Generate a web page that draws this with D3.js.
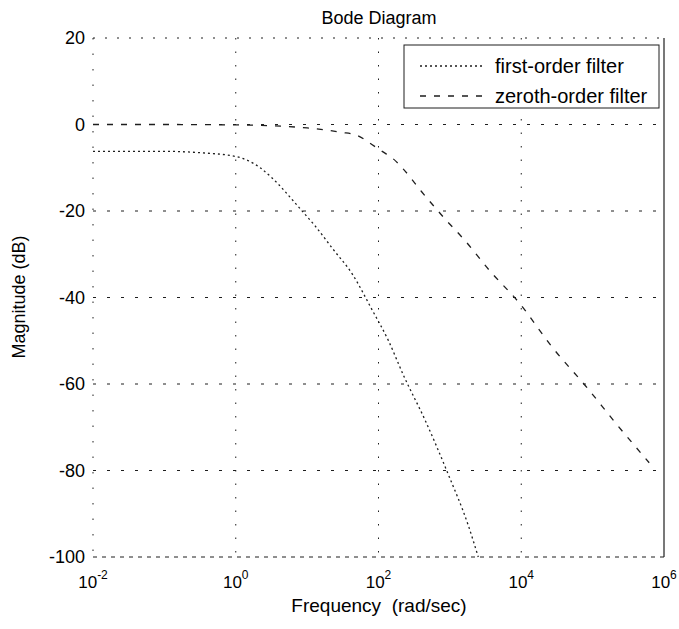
<!DOCTYPE html>
<html>
<head>
<meta charset="utf-8">
<script src="https://cdn.jsdelivr.net/npm/d3@7"></script>
<style>
  body { margin: 0; background: #fff; }
  svg { display: block; font-family: "Liberation Sans", Arial, sans-serif; }
</style>
</head>
<body>
<div id="container"></div>
<script>
// magnitude curves (rad/sec, dB)
const freqFirst = [0.01, 0.1, 0.3, 1, 2.2, 3.2, 8, 13, 23, 43, 81, 138, 224, 457, 933, 1820, 2500];
const magFirst = [-6.2, -6.2, -6.5, -7.4, -10, -12.3, -19.5, -23.5, -28.8, -34.6, -42.8, -50, -58, -68.6, -80.6, -92.8, -100];
const freqZeroth = [0.01, 0.1, 1, 3.2, 10, 30, 50, 74, 107, 160, 220, 400, 810, 1660, 3700, 9100, 27500, 85000, 200000, 620000];
const magZeroth = [0, 0, -0.1, -0.3, -0.8, -1.8, -2.5, -4.2, -6, -7.9, -10.2, -15.5, -21.4, -27, -34, -41, -51.6, -61, -68.6, -78.2];
const xTicks = [1e-2, 1e0, 1e2, 1e4, 1e6];
const xTickExp = ['-2', '0', '2', '4', '6'];
const yTicks = [20, 0, -20, -40, -60, -80, -100];
const seriesNames = ['first-order filter', 'zeroth-order filter'];

const w = 679, h = 629;
const pLeft = 93, pRight = 664, pTop = 38, pBottom = 557;
const ink = '#1e1e1e';

const xScale = d3.scaleLog().domain([1e-2, 1e6]).range([pLeft, pRight]);
const yScale = d3.scaleLinear().domain([-100, 20]).range([pBottom, pTop]);

const svg = d3.select('#container').append('svg')
    .attr('width', w).attr('height', h);

// grid (only at labelled ticks, looks broken in the scan)
svg.append('g').selectAll('line')
    .data(yTicks.slice(1, -1))
    .enter().append('line')
    .attr('x1', pLeft).attr('x2', pRight)
    .attr('y1', d => yScale(d)).attr('y2', d => yScale(d))
    .attr('stroke', ink).attr('stroke-width', 1)
    .attr('stroke-dasharray', '3,11');
svg.append('g').selectAll('line')
    .data(xTicks.slice(1, -1))
    .enter().append('line')
    .attr('x1', d => xScale(d)).attr('x2', d => xScale(d))
    .attr('y1', pTop).attr('y2', pBottom)
    .attr('stroke', ink).attr('stroke-width', 1)
    .attr('stroke-dasharray', '1.5,12');

// frame
svg.append('line').attr('x1', pLeft).attr('x2', pRight).attr('y1', pTop).attr('y2', pTop)
    .attr('stroke', ink).attr('stroke-dasharray', '2,10');
svg.append('line').attr('x1', pLeft).attr('x2', pRight).attr('y1', pBottom).attr('y2', pBottom)
    .attr('stroke', ink).attr('stroke-dasharray', '4,5');
svg.append('line').attr('x1', pLeft).attr('x2', pLeft).attr('y1', pTop).attr('y2', pBottom)
    .attr('stroke', ink).attr('stroke-dasharray', '1.5,14');
svg.append('line').attr('x1', pRight).attr('x2', pRight).attr('y1', pTop).attr('y2', pBottom)
    .attr('stroke', ink).attr('stroke-width', 1.2);

// y axis labels
const yAxis = d3.axisLeft(yScale).tickValues(yTicks).tickSize(0).tickPadding(8).tickFormat(d3.format('d'));
const gy = svg.append('g').attr('transform', 'translate(' + pLeft + ',0)').call(yAxis);
gy.select('.domain').remove();
gy.selectAll('text').attr('font-size', 18).attr('fill', '#000')
    .attr('font-family', '"Liberation Sans", Arial, sans-serif')
    .text(d => d < 0 ? '-' + Math.abs(d) : d);

// x axis labels as 10^n
const gx = svg.append('g');
xTicks.forEach((t, i) => {
    const txt = gx.append('text')
        .attr('x', xScale(t)).attr('y', 588)
        .attr('text-anchor', 'middle')
        .attr('font-size', 17).attr('fill', '#000');
    txt.append('tspan').text('10');
    txt.append('tspan').attr('dy', -9).attr('font-size', 12).text(xTickExp[i]);
});

// curves
const line = d3.line()
    .x(d => xScale(d[0]))
    .y(d => yScale(d[1]))
    .curve(d3.curveMonotoneX);

const firstPts = freqFirst.map((f, i) => [f, magFirst[i]]);
const zerothPts = freqZeroth.map((f, i) => [f, magZeroth[i]]);

svg.append('path').datum(firstPts)
    .attr('d', line)
    .attr('fill', 'none').attr('stroke', ink).attr('stroke-width', 1.3)
    .attr('stroke-dasharray', '2,3');
svg.append('path').datum(zerothPts)
    .attr('d', line)
    .attr('fill', 'none').attr('stroke', ink).attr('stroke-width', 1.3)
    .attr('stroke-dasharray', '6,8');

// legend
const legend = svg.append('g');
legend.append('rect').attr('x', 404).attr('y', 45).attr('width', 255).attr('height', 63)
    .attr('fill', '#fff').attr('stroke', ink).attr('stroke-width', 1);
const dashes = ['2,3', '6,8'];
seriesNames.forEach((name, i) => {
    const yy = 66 + i * 30;
    legend.append('line').attr('x1', 420).attr('x2', 484).attr('y1', yy).attr('y2', yy)
        .attr('stroke', ink).attr('stroke-width', 1.3).attr('stroke-dasharray', dashes[i]);
    legend.append('text').attr('x', 495).attr('y', yy + 7)
        .attr('font-size', 20).attr('fill', '#000').text(name);
});

// titles
svg.append('text').attr('x', 379).attr('y', 24).attr('text-anchor', 'middle')
    .attr('font-size', 18).attr('fill', '#000').text('Bode Diagram');
svg.append('text').attr('x', 379).attr('y', 612).attr('text-anchor', 'middle')
    .attr('font-size', 19).attr('fill', '#000').attr('xml:space', 'preserve')
    .text('Frequency  (rad/sec)');
svg.append('text').attr('transform', 'translate(25,297) rotate(-90)')
    .attr('text-anchor', 'middle')
    .attr('font-size', 18).attr('fill', '#000').text('Magnitude (dB)');
</script>
</body>
</html>
